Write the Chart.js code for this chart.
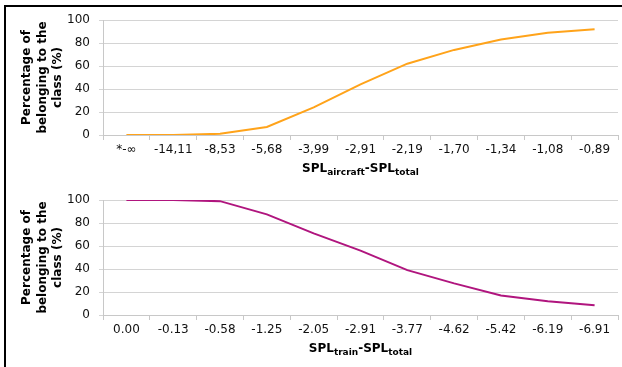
<!DOCTYPE html>
<html>
<head>
<meta charset="utf-8">
<script src="https://cdn.jsdelivr.net/npm/chart.js@4"></script>
<style>
  body { margin: 0; background: #fff; width: 622px; height: 367px; overflow: hidden; position: relative; }
  #frame { position: absolute; left: 4px; top: 5px; width: 700px; height: 400px;
           border-top: 2px solid #000; border-left: 2px solid #000; }
  canvas { position: absolute; left: 0; }
  #topChart { top: 0; }
  #bottomChart { top: 182px; }
</style>
</head>
<body>
<div id="frame"></div>
<canvas id="topChart" width="622" height="182"></canvas>
<canvas id="bottomChart" width="622" height="185"></canvas>
<script>
const aircraftLabels = ['*-\u221e', '-14,11', '-8,53', '-5,68', '-3,99', '-2,91', '-2,19', '-1,70', '-1,34', '-1,08', '-0,89'];
const aircraftValues = [0, 0, 1, 7, 24, 44, 62, 74, 83, 89, 92];

const trainLabels = ['0.00', '-0.13', '-0.58', '-1.25', '-2.05', '-2.91', '-3.77', '-4.62', '-5.42', '-6.19', '-6.91'];
const trainValues = [100, 100, 99, 87.5, 71, 56, 39, 27.5, 17, 12, 8.5];

const yTicks = [0, 20, 40, 60, 80, 100];

// draws "SPL<sub>x</sub>-SPL<sub>total</sub>" under the x axis
const subTitlePlugin = {
    id: 'subTitle',
    afterDraw(chart, args, opts) {
        const ctx = chart.ctx;
        const area = chart.chartArea;
        const parts = [
            ['SPL', false], [opts.sub, true], ['-SPL', false], ['total', true]
        ];
        const big = 'bold 12px "DejaVu Sans"';
        const small = 'bold 9px "DejaVu Sans"';
        let total = 0;
        parts.forEach(p => {
            ctx.font = p[1] ? small : big;
            total += ctx.measureText(p[0]).width;
        });
        let x = (area.left + area.right) / 2 - total / 2;
        const y = area.bottom + 37;
        ctx.save();
        ctx.fillStyle = '#000';
        ctx.textBaseline = 'alphabetic';
        ctx.textAlign = 'left';
        parts.forEach(p => {
            ctx.font = p[1] ? small : big;
            ctx.fillText(p[0], x, p[1] ? y + 3 : y);
            x += ctx.measureText(p[0]).width;
        });
        ctx.restore();
    }
};

function makeChart(id, labels, values, color, sub, padTop, xHeight) {
    return new Chart(document.getElementById(id).getContext('2d'), {
        type: 'line',
        data: {
            labels: labels,
            datasets: [{
                data: values,
                borderColor: color,
                borderWidth: 2,
                pointRadius: 0,
                tension: 0,
                fill: false
            }]
        },
        options: {
            responsive: false,
            animation: false,
            devicePixelRatio: 1,
            layout: { padding: { left: 0, right: 4, top: padTop, bottom: 0 } },
            plugins: {
                legend: { display: false },
                tooltip: { enabled: false },
                subTitle: { sub: sub }
            },
            scales: {
                x: {
                    offset: true,
                    grid: { offset: true, drawOnChartArea: false, tickLength: 5, color: '#c8c8c8' },
                    border: { color: '#c8c8c8' },
                    ticks: {
                        padding: 3,
                        maxRotation: 0,
                        autoSkip: false,
                        color: '#111',
                        font: { family: 'DejaVu Sans', size: 12 }
                    },
                    afterFit: s => { s.height = xHeight; }
                },
                y: {
                    min: 0,
                    max: 100,
                    afterBuildTicks: s => { s.ticks = yTicks.map(v => ({ value: v })); },
                    grid: { color: '#d4d4d4', tickLength: 4 },
                    border: { color: '#c8c8c8' },
                    ticks: {
                        padding: 9,
                        color: '#111',
                        font: { family: 'DejaVu Sans', size: 12 }
                    },
                    title: {
                        display: true,
                        text: ['Percentage of', 'belonging to the', 'class (%)'],
                        color: '#000',
                        padding: { top: 19, bottom: 0 },
                        font: { family: 'DejaVu Sans', size: 12, weight: 'bold', lineHeight: 1.3 }
                    },
                    afterFit: s => { s.width = 103; }
                }
            }
        },
        plugins: [subTitlePlugin]
    });
}

makeChart('topChart', aircraftLabels, aircraftValues, '#ffa31a', 'aircraft', 20, 47);
makeChart('bottomChart', trainLabels, trainValues, '#b0157e', 'train', 18, 52);
</script>
</body>
</html>
